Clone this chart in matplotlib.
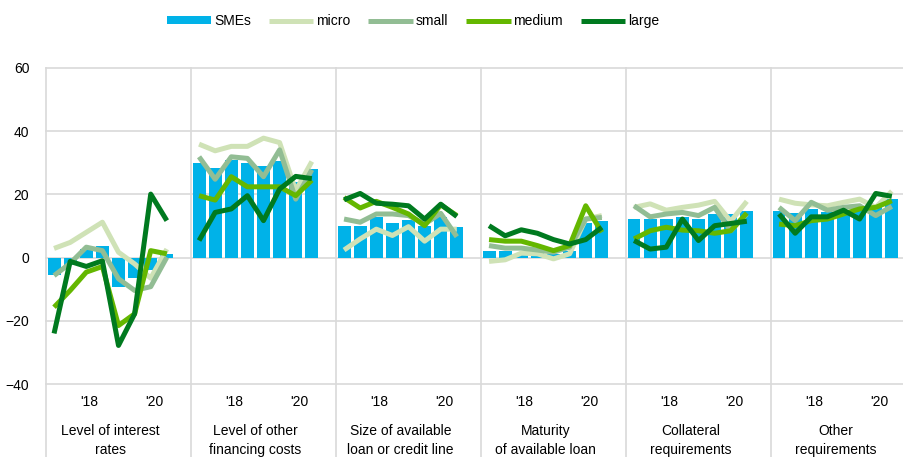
import matplotlib
matplotlib.use('Agg')
import matplotlib.pyplot as plt
import matplotlib.transforms as mtransforms
import numpy as np

plt.rcParams['font.family'] = ['Liberation Sans', 'DejaVu Sans']
plt.rcParams['font.size'] = 10

categories = ['Level of interest\nrates', 'Level of other\nfinancing costs',
              'Size of available\nloan or credit line', 'Maturity\nof available loan',
              'Collateral\nrequirements', 'Other\nrequirements']
year_labels = ["'18", "'20"]

# 8 survey rounds per category
smes = [
    [-5.4, -2.5, 2.7, 3.8, -9.2, -6.5, -4.0, 1.2],
    [29.8, 28.5, 30.8, 29.8, 29.0, 30.6, 24.0, 28.0],
    [10.1, 10.1, 12.7, 10.8, 11.9, 10.0, 12.7, 9.6],
    [2.0, 2.0, 1.5, 1.5, 1.0, 2.0, 11.0, 11.7],
    [12.2, 12.2, 12.2, 12.8, 12.2, 13.8, 13.8, 14.6],
    [14.6, 14.0, 15.4, 14.3, 15.2, 15.8, 16.8, 18.5],
]
micro = [
    [2.9, 4.8, 8.0, 11.2, 1.7, -2.0, -6.5, 2.7],
    [35.9, 33.8, 35.2, 35.2, 37.8, 36.4, 21.2, 30.4],
    [2.4, 5.9, 9.0, 7.0, 9.8, 5.2, 9.0, 9.0],
    [-1.2, -0.7, 1.4, 1.2, -0.4, 1.2, 12.2, 13.3],
    [15.9, 17.0, 15.0, 15.9, 16.6, 17.8, 11.5, 17.8],
    [18.5, 17.2, 16.7, 16.4, 17.5, 18.5, 15.9, 21.0],
]
small = [
    [-5.7, -1.8, 3.3, 2.2, -6.7, -10.4, -9.2, 0.1],
    [31.9, 24.8, 31.9, 31.4, 25.6, 34.1, 18.5, 27.8],
    [12.2, 11.2, 13.8, 13.8, 13.3, 10.6, 14.0, 6.6],
    [3.8, 3.0, 3.0, 2.4, 1.7, 3.3, 12.2, 12.7],
    [16.4, 12.9, 13.8, 14.3, 13.3, 15.9, 8.5, 13.8],
    [15.9, 11.7, 17.5, 15.0, 15.9, 16.4, 13.3, 16.2],
]
medium = [
    [-15.7, -10.4, -4.6, -2.8, -21.5, -17.8, 2.2, 1.2],
    [19.6, 18.2, 25.6, 22.4, 22.4, 22.4, 19.6, 24.5],
    [19.0, 15.7, 17.8, 15.9, 13.8, 10.1, 16.7, 13.3],
    [5.7, 5.2, 5.2, 3.8, 2.2, 3.8, 16.4, 8.0],
    [5.9, 8.5, 9.6, 8.7, 8.5, 7.7, 8.5, 14.1],
    [10.6, 10.1, 11.7, 12.2, 13.8, 15.4, 15.9, 18.0],
]
large = [
    [-24.0, -1.2, -2.8, -1.0, -27.8, -17.8, 20.1, 11.7],
    [5.4, 14.3, 15.4, 19.6, 11.7, 21.7, 25.7, 25.0],
    [18.3, 20.3, 17.2, 16.9, 16.4, 12.2, 16.9, 13.0],
    [10.1, 6.9, 8.8, 7.7, 5.7, 4.3, 5.7, 9.6],
    [5.4, 2.7, 3.3, 12.2, 5.4, 10.1, 10.8, 11.5],
    [13.8, 7.7, 12.9, 12.9, 15.0, 12.2, 20.3, 19.4],
]

c_sme = '#00b2e8'
line_series = [('micro', micro, '#cfe2b6'), ('small', small, '#92bd94'),
               ('medium', medium, '#64b700'), ('large', large, '#007a1f')]
grid_c = '#d9d9d9'

fig = plt.figure(figsize=(9.04, 4.57), dpi=100)
ax = fig.add_axes([46 / 904, 1 - 384 / 457, 1 - 46 / 904, 316 / 457])

n = len(smes[0])
step = n + 1
handles = {}
for p in range(len(categories)):
    x = np.arange(n) + p * step
    b = ax.bar(x, smes[p], width=0.8, color=c_sme, zorder=2)
    handles.setdefault('SMEs', b)
    for name, series, col in line_series:
        ln, = ax.plot(x, series[p], color=col, lw=3.6, zorder=3,
                      solid_capstyle='butt')
        handles.setdefault(name, ln)

for yv in [-40, -20, 0, 20, 40, 60]:
    ax.axhline(yv, color=grid_c, lw=1.2, zorder=1, clip_on=False)

trans = mtransforms.blended_transform_factory(ax.transData, ax.transAxes)
for p in range(len(categories) + 1):
    xs = p * step - 0.5
    ax.plot([xs, xs], [-0.25, 1], color=grid_c, lw=1.2, transform=trans,
            clip_on=False, zorder=1)

for p, cat in enumerate(categories):
    ax.text(p * step + (n - 1) / 2, -0.128, cat, transform=trans, ha='center',
            va='top', fontsize=10, linespacing=1.42)

ticks = []
tlabels = []
for p in range(len(categories)):
    ticks += [p * step + 2.2, p * step + 6.2]
    tlabels += year_labels
ax.set_xticks(ticks)
ax.set_xticklabels(tlabels)
ax.set_yticks([-40, -20, 0, 20, 40, 60])
ax.tick_params(axis='both', length=0, labelsize=10)
ax.tick_params(axis='x', pad=8)
ax.tick_params(axis='y', pad=12)

ax.set_xlim(-0.5, -0.5 + 858 / (145 / step))
ax.set_ylim(-40, 60)
for s in ax.spines.values():
    s.set_visible(False)

order = ['SMEs', 'micro', 'small', 'medium', 'large']
fig.legend([handles[k] for k in order], order, loc='center',
           bbox_to_anchor=(413 / 904, 1 - 21 / 457), ncol=5,
           frameon=False, fontsize=10, handlelength=3.2, handletextpad=0.2,
           columnspacing=1.3, handleheight=0.5)

fig.savefig('out.png', dpi=100)
